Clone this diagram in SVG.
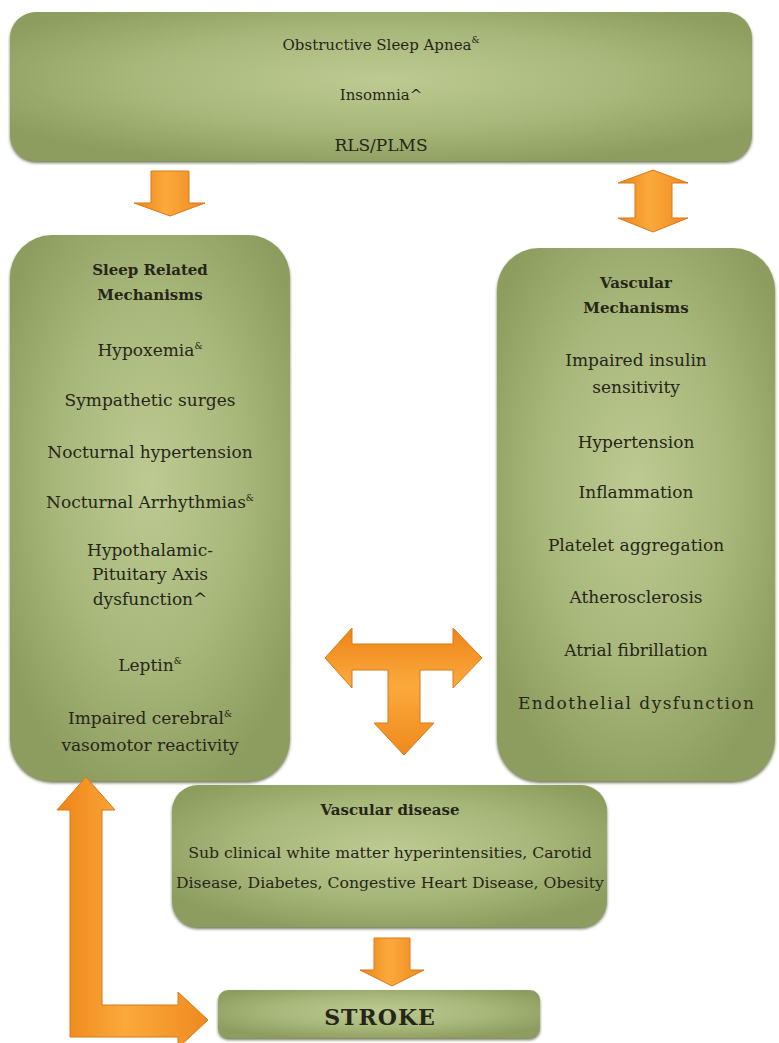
<svg xmlns="http://www.w3.org/2000/svg" width="779" height="1043" viewBox="0 0 779 1043">
<defs>
<radialGradient id="boxg" cx="50%" cy="45%" r="60%">
<stop offset="0%" stop-color="#bdcb93"/>
<stop offset="55%" stop-color="#a8b77a"/>
<stop offset="100%" stop-color="#8d9d5f"/>
</radialGradient>
<linearGradient id="arrv" x1="0" y1="0" x2="1" y2="0">
<stop offset="0%" stop-color="#ee8418"/>
<stop offset="45%" stop-color="#fba93c"/>
<stop offset="100%" stop-color="#ef8a1e"/>
</linearGradient>
<linearGradient id="arrh" x1="0" y1="0" x2="0" y2="1">
<stop offset="0%" stop-color="#ee8418"/>
<stop offset="45%" stop-color="#fba93c"/>
<stop offset="100%" stop-color="#ef8a1e"/>
</linearGradient>
<filter id="sh" x="-5%" y="-5%" width="110%" height="115%">
<feDropShadow dx="0" dy="2" stdDeviation="1.5" flood-color="#4f5a30" flood-opacity="0.8"/>
</filter>
</defs>
<style>
.box{fill:url(#boxg);filter:url(#sh)}
.t{font-family:"DejaVu Serif","Liberation Serif",serif;font-size:15px;fill:#262618;text-anchor:middle}
.m{font-size:17px}
.b{font-weight:bold;font-size:15px}
.arr{stroke:#d9781a;stroke-width:1}
.sup{font-size:9px}
</style>

<g id="top-node">
<rect class="box" x="10" y="12" width="742" height="149" rx="26"/>
<text class="t" x="381" y="50">Obstructive Sleep Apnea<tspan class="sup" dy="-7">&amp;</tspan></text>
<text class="t" x="381" y="100">Insomnia^</text>
<text class="t" x="381" y="151" style="font-size:17px">RLS/PLMS</text>
</g>

<g id="sleep-node">
<rect class="box" x="10" y="235" width="280" height="546" rx="42"/>
<text class="t b" x="150" y="275">Sleep Related</text>
<text class="t b" x="150" y="300">Mechanisms</text>
<text class="t m" x="150" y="356">Hypoxemia<tspan class="sup" dy="-7">&amp;</tspan></text>
<text class="t m" x="150" y="406">Sympathetic surges</text>
<text class="t m" x="150" y="458">Nocturnal hypertension</text>
<text class="t m" x="150" y="508">Nocturnal Arrhythmias<tspan class="sup" dy="-7">&amp;</tspan></text>
<text class="t m" x="150" y="556">Hypothalamic-</text>
<text class="t m" x="150" y="580">Pituitary Axis</text>
<text class="t m" x="150" y="605">dysfunction^</text>
<text class="t m" x="150" y="671">Leptin<tspan class="sup" dy="-7">&amp;</tspan></text>
<text class="t m" x="150" y="724">Impaired cerebral<tspan class="sup" dy="-7">&amp;</tspan></text>
<text class="t m" x="150" y="751">vasomotor reactivity</text>
</g>

<g id="vascular-node">
<rect class="box" x="497" y="248" width="278" height="533" rx="42"/>
<text class="t b" x="636" y="288">Vascular</text>
<text class="t b" x="636" y="313">Mechanisms</text>
<text class="t m" x="636" y="366">Impaired insulin</text>
<text class="t m" x="636" y="393">sensitivity</text>
<text class="t m" x="636" y="448">Hypertension</text>
<text class="t m" x="636" y="498">Inflammation</text>
<text class="t m" x="636" y="551">Platelet aggregation</text>
<text class="t m" x="636" y="603">Atherosclerosis</text>
<text class="t m" x="636" y="656">Atrial fibrillation</text>
<text class="t m" x="636" y="709" textLength="236" lengthAdjust="spacing">Endothelial dysfunction</text>
</g>

<g id="disease-node">
<rect class="box" x="172" y="785" width="435" height="142" rx="26"/>
<text class="t b" x="390" y="815">Vascular disease</text>
<text class="t" x="390" y="858" style="font-size:15.7px">Sub clinical white matter hyperintensities, Carotid</text>
<text class="t" x="390" y="888" style="font-size:15.7px">Disease, Diabetes, Congestive Heart Disease, Obesity</text>
</g>

<g id="stroke-node">
<rect class="box" x="218" y="990" width="322" height="48" rx="10"/>
<text class="t" x="380" y="1025" style="font-size:22px;font-weight:bold;letter-spacing:1px">STROKE</text>
</g>

<g id="connectors">
<path class="arr" fill="url(#arrv)" d="M151,171 L189,171 L189,203 L205,203 L170,216 L134,203 L151,203 Z"/>
<path class="arr" fill="url(#arrv)" d="M653,170 L688,183 L672,183 L672,218 L688,218 L653,232 L618,218 L635,218 L635,183 L618,183 Z"/>
<path class="arr" fill="url(#arrh)" d="M325,658 L352,628 L352,644 L453,644 L453,628 L482,658 L453,688 L453,670 L420,670 L420,723 L434,723 L404,755 L374,723 L388,723 L388,670 L352,670 L352,688 Z"/>
<path class="arr" fill="url(#arrv)" d="M374,938 L410,938 L410,970 L424,970 L392,986 L360,970 L374,970 Z"/>
<path class="arr" fill="url(#arrv)" d="M86,777 L115,810 L102,810 L102,1005 L178,1005 L178,992 L208,1020 L178,1048 L178,1037 L70,1037 L70,810 L57,810 Z"/>
</g>
</svg>
